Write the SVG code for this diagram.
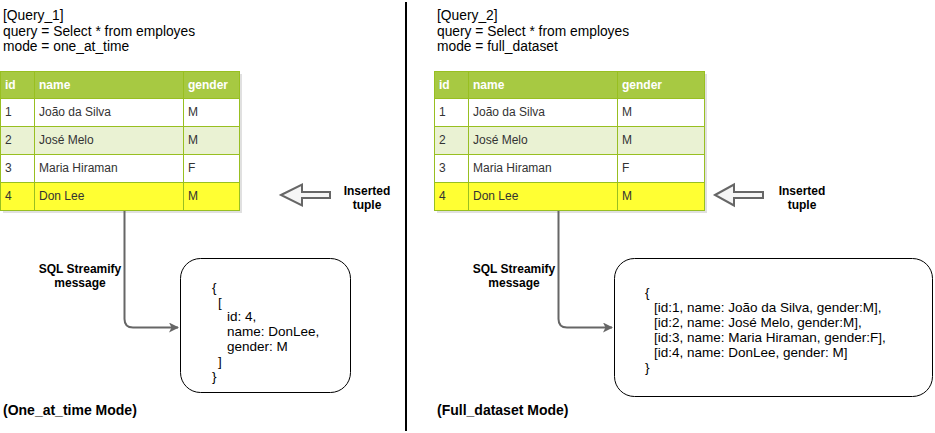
<svg xmlns="http://www.w3.org/2000/svg" width="935" height="433" viewBox="0 0 935 433">
<style>
text{font-family:"Liberation Sans",Arial,sans-serif;fill:#000}
.hd{font-size:13.8px}
.mode{font-size:14px;font-weight:bold}
.th{font-size:12px;font-weight:bold;fill:#fff}
.td{font-size:12px;fill:#333}
.lbl{font-size:12px;font-weight:bold;text-anchor:middle}
.js{font-size:13.5px}
.grid{stroke:#98BF21;stroke-width:1;fill:none}
.conn{fill:none;stroke:#666;stroke-width:2}
.box{fill:#fff;stroke:#000;stroke-width:1}
.barrow{fill:#f5f5f5;stroke:#666;stroke-width:2}
</style>
<defs>
<marker id="ah" viewBox="0 0 10 10" refX="9" refY="5" markerWidth="5" markerHeight="5" orient="auto" markerUnits="strokeWidth">
<path d="M0,0 L10,5 L0,10 L2.5,5 Z" fill="#666"/>
</marker>
</defs>
<rect width="935" height="433" fill="#fff"/>

<line x1="406" y1="2" x2="406" y2="431" stroke="#000" stroke-width="2"/>

<g id="query1-header">
<text class="hd" x="3" y="20">[Query_1]</text>
<text class="hd" x="3" y="36">query = Select * from employes</text>
<text class="hd" x="3" y="51">mode = one_at_time</text>
</g>

<g id="table1">
<rect x="3" y="74" width="239" height="139" fill="#000" opacity="0.12"/>
<rect x="0.5" y="71.5" width="239" height="27" fill="#A7C942"/>
<rect x="0.5" y="98.5" width="239" height="28" fill="#fff"/>
<rect x="0.5" y="126.5" width="239" height="28" fill="#EAF2D3"/>
<rect x="0.5" y="154.5" width="239" height="28" fill="#fff"/>
<rect x="0.5" y="182.5" width="239" height="28" fill="#FFFF33"/>
<rect class="grid" x="0.5" y="71.5" width="239" height="139"/>
<path class="grid" d="M0.5,98.5H239.5M0.5,126.5H239.5M0.5,154.5H239.5M0.5,182.5H239.5M34.5,71.5V210.5M183.5,71.5V210.5"/>
<text class="th" x="5" y="89">id</text>
<text class="th" x="39" y="89">name</text>
<text class="th" x="188" y="89">gender</text>
<text class="td" x="5" y="116">1</text><text class="td" x="39" y="116">João da Silva</text><text class="td" x="188" y="116">M</text>
<text class="td" x="5" y="144">2</text><text class="td" x="39" y="144">José Melo</text><text class="td" x="188" y="144">M</text>
<text class="td" x="5" y="172">3</text><text class="td" x="39" y="172">Maria Hiraman</text><text class="td" x="188" y="172">F</text>
<text class="td" x="5" y="200">4</text><text class="td" x="39" y="200">Don Lee</text><text class="td" x="188" y="200">M</text>
</g>

<g id="inserted1">
<path class="barrow" d="M281,195 L302,184.5 L302,192 L330,192 L330,198 L302,198 L302,205.5 Z"/>
<text class="lbl" x="367" y="195">Inserted</text>
<text class="lbl" x="367" y="209">tuple</text>
</g>

<g id="msg1">
<rect class="box" x="180.5" y="258.5" width="170" height="134" rx="20" ry="20"/>
<text class="js" x="212" y="292">{</text>
<text class="js" x="218" y="307">[</text>
<text class="js" x="227" y="321">id: 4,</text>
<text class="js" x="227" y="336">name: DonLee,</text>
<text class="js" x="227" y="351">gender: M</text>
<text class="js" x="218" y="366">]</text>
<text class="js" x="212" y="381">}</text>
</g>

<g id="mode1">
<text class="mode" x="3" y="415">(One_at_time Mode)</text>
</g>

<g id="query2-header">
<text class="hd" x="437" y="20">[Query_2]</text>
<text class="hd" x="437" y="36">query = Select * from employes</text>
<text class="hd" x="437" y="51">mode = full_dataset</text>
</g>

<g id="table2">
<rect x="437" y="74" width="270" height="139" fill="#000" opacity="0.12"/>
<rect x="434.5" y="71.5" width="270" height="27" fill="#A7C942"/>
<rect x="434.5" y="98.5" width="270" height="28" fill="#fff"/>
<rect x="434.5" y="126.5" width="270" height="28" fill="#EAF2D3"/>
<rect x="434.5" y="154.5" width="270" height="28" fill="#fff"/>
<rect x="434.5" y="182.5" width="270" height="28" fill="#FFFF33"/>
<rect class="grid" x="434.5" y="71.5" width="270" height="139"/>
<path class="grid" d="M434.5,98.5H704.5M434.5,126.5H704.5M434.5,154.5H704.5M434.5,182.5H704.5M468.5,71.5V210.5M617.5,71.5V210.5"/>
<text class="th" x="439" y="89">id</text>
<text class="th" x="473" y="89">name</text>
<text class="th" x="622" y="89">gender</text>
<text class="td" x="439" y="116">1</text><text class="td" x="473" y="116">João da Silva</text><text class="td" x="622" y="116">M</text>
<text class="td" x="439" y="144">2</text><text class="td" x="473" y="144">José Melo</text><text class="td" x="622" y="144">M</text>
<text class="td" x="439" y="172">3</text><text class="td" x="473" y="172">Maria Hiraman</text><text class="td" x="622" y="172">F</text>
<text class="td" x="439" y="200">4</text><text class="td" x="473" y="200">Don Lee</text><text class="td" x="622" y="200">M</text>
</g>

<g id="inserted2">
<path class="barrow" d="M715,195 L734,184.5 L734,192 L763,192 L763,198 L734,198 L734,205.5 Z"/>
<text class="lbl" x="802" y="195">Inserted</text>
<text class="lbl" x="802" y="209">tuple</text>
</g>

<g id="msg2">
<rect class="box" x="614.5" y="258.5" width="318" height="138" rx="20" ry="20"/>
<text class="js" x="645" y="297">{</text>
<text class="js" x="654" y="312">[id:1, name: João da Silva, gender:M],</text>
<text class="js" x="654" y="327">[id:2, name: José Melo, gender:M],</text>
<text class="js" x="654" y="342">[id:3, name: Maria Hiraman, gender:F],</text>
<text class="js" x="654" y="357">[id:4, name: DonLee, gender: M]</text>
<text class="js" x="645" y="372">}</text>
</g>

<g id="mode2">
<text class="mode" x="437" y="415">(Full_dataset Mode)</text>
</g>

<g id="connectors">
<path class="conn" d="M124.5,211 V319 Q124.5,327.5 133,327.5 H178" marker-end="url(#ah)"/>
<text class="lbl" x="80" y="273">SQL Streamify</text>
<text class="lbl" x="80" y="287">message</text>
<path class="conn" d="M558.5,211 V319 Q558.5,327.5 567,327.5 H612" marker-end="url(#ah)"/>
<text class="lbl" x="514" y="273">SQL Streamify</text>
<text class="lbl" x="514" y="287">message</text>
</g>
</svg>
